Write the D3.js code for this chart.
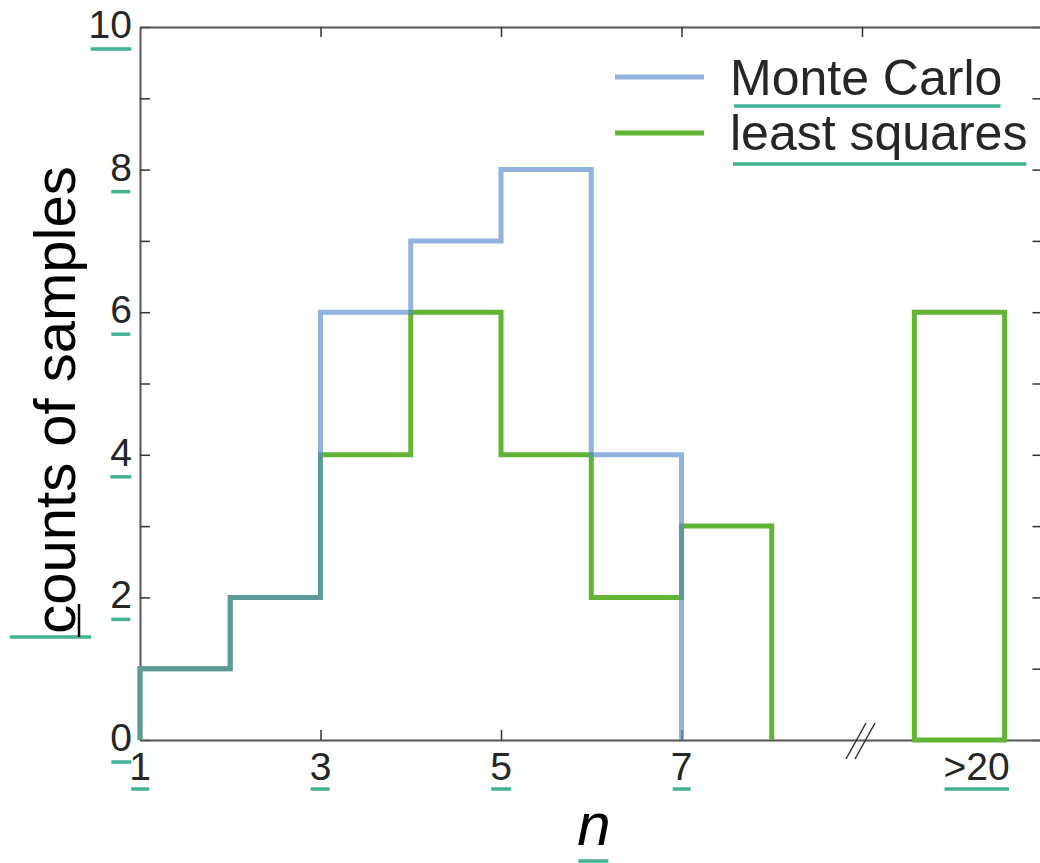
<!DOCTYPE html>
<html>
<head>
<meta charset="utf-8">
<script src="https://cdn.jsdelivr.net/npm/d3@7"></script>
<style>
  html, body { margin: 0; padding: 0; background: #fff; overflow: hidden; }
  svg { display: block; }
</style>
</head>
<body>
<svg id="chart" width="1040" height="863"></svg>
<script>
// ---- data ----
const binEdgesMC = [1, 2, 3, 4, 5, 6, 7];
const countsMC = [1, 2, 6, 7, 8, 4];
const binEdgesLS = [1, 2, 3, 4, 5, 6, 7, 8];
const countsLS = [1, 2, 4, 6, 4, 2, 3];
const overflowEdges = [9.58, 10.58];
const overflowLS = 6;
const xTickValues = [1, 3, 5, 7];
const xTickLabels = ["1", "3", "5", "7"];
const overflowLabel = ">20";
const overflowLabelPos = 10.27;
const topTickValues = [3, 5, 7, 9];
const breakPos = 9;
const yTickValues = [0, 1, 2, 3, 4, 5, 6, 7, 8, 9, 10];
const yLabelValues = [0, 2, 4, 6, 8, 10];
const seriesNames = ["Monte Carlo", "least squares"];
const xTitle = "n";
const yTitle = "counts of samples";

(function () {
// ---- layout ----
const svg = d3.select("#chart");
const pLeft = 140, pRight = 1042.5, pTop = 27, pBottom = 740;
const x = d3.scaleLinear().domain([1, 11]).range([pLeft, pRight]);
const y = d3.scaleLinear().domain([0, 10]).range([pBottom, pTop]);

const BLUE = "#5a8ccb", BLUE_OP = 0.66;
const GREEN = "#62b534";
const UL = "#44b393";
const AXIS = "#555";
const TXT = "#262626";
const FONT = "'Liberation Sans', Arial, Helvetica, sans-serif";

const ctx = document.createElement("canvas").getContext("2d");
function ink(text, font, anchorX, anchor) {
  ctx.font = font;
  const m = ctx.measureText(text);
  const start = anchor === "end" ? anchorX - m.width : anchor === "middle" ? anchorX - m.width / 2 : anchorX;
  return [start - m.actualBoundingBoxLeft, start + m.actualBoundingBoxRight];
}
function underline(x0, x1, yy) {
  svg.append("line").attr("x1", x0).attr("x2", x1).attr("y1", yy).attr("y2", yy)
    .attr("stroke", UL).attr("stroke-width", 3.5);
}

// ---- axes (spines + inward ticks) ----
const axG = svg.append("g").attr("class", "axes");
function styleAxis(g) {
  g.selectAll("path").attr("stroke", AXIS).attr("stroke-width", 2);
  g.selectAll("line").attr("stroke", "#333").attr("stroke-width", 1.5);
  g.selectAll("text").remove();
}
axG.append("g").attr("transform", `translate(${pLeft},0)`)
  .call(d3.axisLeft(y).tickValues(yTickValues).tickSizeInner(-10).tickSizeOuter(0).tickFormat(""))
  .call(styleAxis);
axG.append("g").attr("transform", `translate(${pRight},0)`)
  .call(d3.axisRight(y).tickValues(yTickValues).tickSizeInner(-10).tickSizeOuter(0).tickFormat(""))
  .call(styleAxis);
axG.append("g").attr("transform", `translate(0,${pTop})`)
  .call(d3.axisTop(x).tickValues(topTickValues).tickSizeInner(-10).tickSizeOuter(0).tickFormat(""))
  .call(styleAxis);
axG.append("g").attr("transform", `translate(0,${pBottom})`)
  .call(d3.axisBottom(x).tickValues(xTickValues).tickSizeInner(-10).tickSizeOuter(0).tickFormat(""))
  .call(styleAxis);

// axis break mark
const bx = x(breakPos);
[-16, -7].forEach(dx0 => {
  svg.append("line")
    .attr("x1", bx + dx0).attr("y1", pBottom + 19)
    .attr("x2", bx + dx0 + 20).attr("y2", pBottom - 17)
    .attr("stroke", "#333").attr("stroke-width", 1.5);
});

// ---- histogram steps ----
function stepPoints(edges, counts) {
  const pts = [[edges[0], 0]];
  counts.forEach((c, i) => { pts.push([edges[i], c]); pts.push([edges[i + 1], c]); });
  pts.push([edges[edges.length - 1], 0]);
  return pts;
}
const line = d3.line().x(d => x(d[0])).y(d => y(d[1]));

svg.append("path").attr("d", line(stepPoints(binEdgesLS, countsLS)))
  .attr("fill", "none").attr("stroke", GREEN).attr("stroke-width", 5)
  .attr("stroke-linejoin", "miter").attr("stroke-linecap", "butt");
svg.append("path")
  .attr("d", line(stepPoints(overflowEdges, [overflowLS])) + "Z")
  .attr("fill", "none").attr("stroke", GREEN).attr("stroke-width", 5)
  .attr("stroke-linejoin", "miter");
svg.append("path").attr("d", line(stepPoints(binEdgesMC, countsMC)))
  .attr("fill", "none").attr("stroke", BLUE).attr("stroke-opacity", BLUE_OP).attr("stroke-width", 5)
  .attr("stroke-linejoin", "miter").attr("stroke-linecap", "butt");

// ---- tick labels ----
const tickFont = `39px ${FONT}`;
yLabelValues.forEach(v => {
  const tx = pLeft - 8, ty = y(v) + 11;
  svg.append("text").attr("x", tx).attr("y", ty).attr("text-anchor", "end")
    .attr("font-family", FONT).attr("font-size", 39).attr("fill", TXT).text(String(v));
  const [a, b] = ink(String(v), tickFont, tx, "end");
  underline(a, b, ty + 11);
});
const xLabs = xTickValues.map((v, i) => [x(v), xTickLabels[i]]).concat([[x(overflowLabelPos), overflowLabel]]);
xLabs.forEach(([px, t]) => {
  const ty = 780;
  svg.append("text").attr("x", px).attr("y", ty).attr("text-anchor", "middle")
    .attr("font-family", FONT).attr("font-size", 39).attr("fill", TXT).text(t);
  const [a, b] = ink(t, tickFont, px, "middle");
  underline(a, b, ty + 9);
});

// ---- axis titles ----
const xtX = 594, xtY = 845;
svg.append("text").attr("x", xtX).attr("y", xtY).attr("text-anchor", "middle")
  .attr("font-family", FONT).attr("font-style", "italic").attr("font-size", 60).attr("fill", "#000").text(xTitle);
{
  const [a, b] = ink(xTitle, `italic 60px ${FONT}`, xtX, "middle");
  underline(a, b, xtY + 16);
}
const ytX = 75, ytY = 400;
svg.append("text").attr("transform", `translate(${ytX},${ytY}) rotate(-90)`)
  .attr("text-anchor", "middle").attr("font-family", FONT).attr("font-size", 58)
  .attr("fill", "#000").text(yTitle);
underline(10, 91, 637);
svg.append("line").attr("x1", 79).attr("x2", 79).attr("y1", 604).attr("y2", 637)
  .attr("stroke", "#000").attr("stroke-width", 2.5);

// ---- legend ----
const legFont = `50px ${FONT}`;
const legRows = [
  { name: seriesNames[0], color: BLUE, op: BLUE_OP, ly: 77, ty: 95, ul: 106 },
  { name: seriesNames[1], color: GREEN, op: 1, ly: 133, ty: 150, ul: 164 }
];
legRows.forEach(r => {
  svg.append("line").attr("x1", 615).attr("x2", 704).attr("y1", r.ly).attr("y2", r.ly)
    .attr("stroke", r.color).attr("stroke-opacity", r.op).attr("stroke-width", 5);
  svg.append("text").attr("x", 730).attr("y", r.ty).attr("font-family", FONT)
    .attr("font-size", 50).attr("fill", TXT).text(r.name);
  const [a, b] = ink(r.name, legFont, 730, "start");
  underline(a, b, r.ul);
});
})();
</script>
</body>
</html>
